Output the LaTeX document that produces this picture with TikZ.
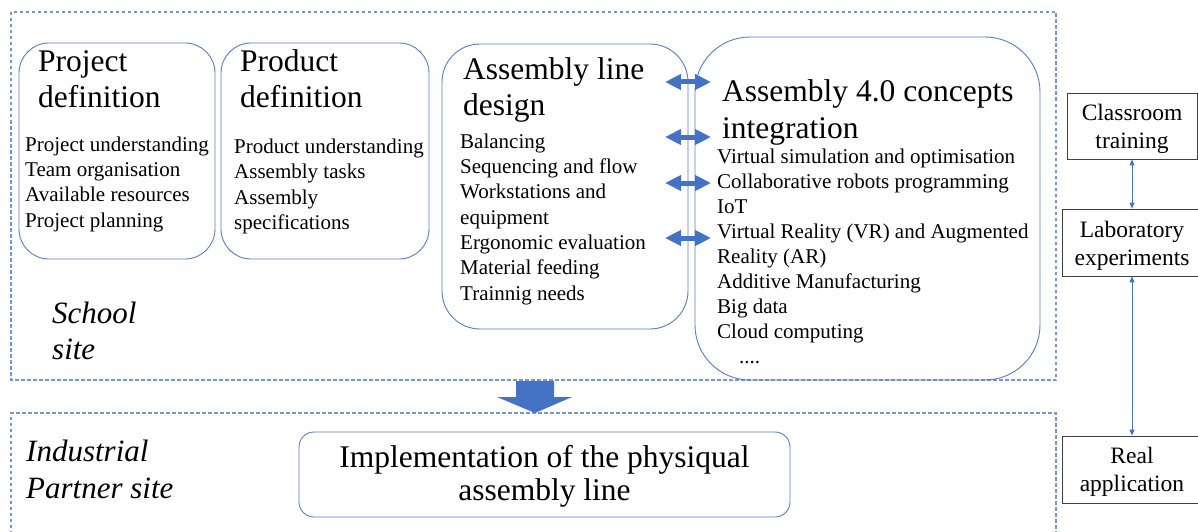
\documentclass[tikz,border=0pt]{standalone}
\usepackage{fontspec}
\setmainfont{Liberation Serif}
\usetikzlibrary{arrows.meta}
\definecolor{frameblue}{HTML}{7A96CC}
\definecolor{boxblue}{HTML}{5A7DBD}
\definecolor{arrowblue}{HTML}{4472C4}
\tikzset{
  siteframe/.style={draw=frameblue, line width=1.1pt, dash pattern=on 3.5pt off 2.5pt},
  phase/.style={draw=boxblue, line width=0.9pt, inner sep=0pt},
  sidebox/.style={draw=black!75, line width=0.8pt, inner sep=0pt},
  sidetext/.style={anchor=base, inner sep=0pt, align=center,
    font=\fontsize{23.5}{28}\selectfont},
  % multi-line texts are placed by the baseline of their last line
  heading/.style={anchor=base west, inner sep=0pt, align=left,
    font=\fontsize{31.5}{36}\selectfont},
  items/.style={anchor=base west, inner sep=0pt, align=left,
    font=\fontsize{21}{25.3}\selectfont},
  sitelabel/.style={anchor=base west, inner sep=0pt, align=left,
    font=\fontsize{31}{36.5}\selectfont\itshape},
  linkarrow/.style={draw=arrowblue, line width=5pt,
    {Triangle[length=16pt,width=15pt]}-{Triangle[length=16pt,width=15pt]}},
  flowarrow/.style={draw=arrowblue, line width=0.9pt,
    {Triangle[length=6pt,width=5pt]}-{Triangle[length=6pt,width=5pt]}}
}
\begin{document}
\begin{tikzpicture}[x=1pt,y=-1pt]
\useasboundingbox (0,0) rectangle (1198,532);

% site frames
\draw[siteframe] (11,12) rectangle (1056,380);
\draw[siteframe] (11,540) -- (11,413) -- (1056,413) -- (1056,540);

% school-site phases
\node[phase, rounded corners=30pt, minimum width=196pt, minimum height=216pt] (proj) at (117,151) {};
\node[phase, rounded corners=30pt, minimum width=208pt, minimum height=216pt] (prod) at (325,151) {};
\node[phase, rounded corners=38pt, minimum width=246pt, minimum height=285pt] (line) at (565,186.5) {};
\node[phase, rounded corners=55pt, minimum width=345pt, minimum height=343pt] (conc) at (867.5,208.5) {};

\node[heading] (projT) at (38,108) {Project\\definition};
\node[items] (projL) at (25,227) {Project understanding\\Team organisation\\Available resources\\Project planning};

\node[heading] (prodT) at (240,108) {Product\\definition};
\node[items] (prodL) at (234,229.5) {Product understanding\\Assembly tasks\\Assembly\\specifications};

\node[heading] (lineT) at (463,116) {Assembly line\\design};
\node[items] (lineL) at (460,300) {Balancing\\Sequencing and flow\\Workstations and\\equipment\\Ergonomic evaluation\\Material feeding\\Trainnig needs};

\node[heading] (concT) at (722,138) {Assembly 4.0 concepts\\integration};
\node[items, font=\fontsize{21}{25}\selectfont] (concL) at (717,363) {Virtual simulation and optimisation\\Collaborative robots programming\\IoT\\Virtual Reality (VR) and Augmented\\Reality (AR)\\Additive Manufacturing\\Big data\\Cloud computing\\\hspace*{22pt}....};

% links between line design and 4.0 concepts
\foreach \k/\yy in {1/82,2/137,3/183,4/238}{
  \coordinate (lk\k a) at (665,\yy);
  \coordinate (lk\k b) at (711,\yy);
  \draw[linkarrow] (lk\k a) -- (lk\k b);
}

% site labels
\node[sitelabel] (school) at (52,359.5) {School\\site};
\node[sitelabel] (indus) at (26,498) {Industrial\\Partner site};

% transfer to the industrial partner
\fill[arrowblue] (516,381) -- (554,381) -- (554,397) -- (572,397) -- (535,413)
  -- (497,397) -- (516,397) -- cycle;

\node[phase, rounded corners=15pt, minimum width=491pt, minimum height=85pt] (impl) at (544.5,474.5) {};
\node[anchor=base, inner sep=0pt, align=center, font=\fontsize{31.5}{33}\selectfont]
  (implT) at (544.5,500) {Implementation of the physiqual\\assembly line};

% learning path
\node[sidebox, minimum width=130pt, minimum height=66pt] (cls) at (1132,126) {};
\node[sidebox, minimum width=140pt, minimum height=67pt] (lab) at (1132,242.5) {};
\node[sidebox, minimum width=140pt, minimum height=67pt] (real) at (1132,469.5) {};
\node[sidetext] (clsT) at (1132,148) {Classroom\\training};
\node[sidetext] (labT) at (1132,265) {Laboratory\\experiments};
\node[sidetext] (realT) at (1132,491) {Real\\application};
\draw[flowarrow] (cls.south) -- (lab.north);
\draw[flowarrow] (lab.south) -- (real.north);
\end{tikzpicture}
\end{document}
